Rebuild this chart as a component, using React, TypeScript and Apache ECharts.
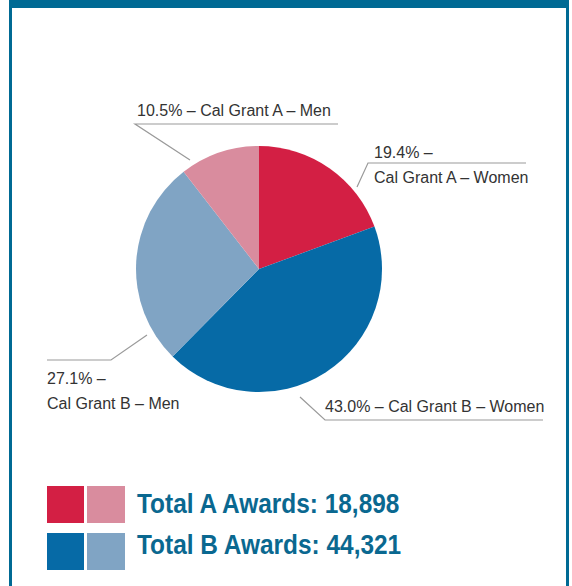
import React, { useEffect, useRef } from "react";
import * as echarts from "echarts";

// ---- Data ----
const categories = [
  "Cal Grant A – Women",
  "Cal Grant B – Women",
  "Cal Grant B – Men",
  "Cal Grant A – Men",
];
const shares = [19.4, 43.0, 27.1, 10.5];
const twoLineLabel = [true, false, true, false];
const sliceColors = ["#D31F44", "#066AA6", "#80A4C4", "#D98C9E"];

const awardGroups = ["A", "B"];
const awardTotals = [18898, 44321];
const groupColors = [
  ["#D31F44", "#D98C9E"],
  ["#066AA6", "#80A4C4"],
];

// ---- Layout (pixels) ----
const CX = 259;
const CY = 269;
const R = 123;
const FONT = "'Liberation Sans', Arial, sans-serif";

const labelPlace: any[] = [
  { x: 374, y: 165, align: "left", verticalAlign: "middle", pts: [[357, 187], [368, 163], [526, 163]] },
  { x: 325, y: 419, align: "left", verticalAlign: "bottom", pts: [[300, 397], [325, 420], [543, 420]] },
  { x: 47, y: 366, align: "left", verticalAlign: "top", pts: [[147, 335], [111, 360], [47, 360]] },
  { x: 137, y: 123, align: "left", verticalAlign: "bottom", pts: [[190, 160], [135, 124], [338, 124]] },
];

export default function App() {
  const ref = useRef<HTMLDivElement>(null);
  useEffect(() => {
    if (!ref.current) return;
    const chart = echarts.init(ref.current, null, { renderer: "svg" });
    const frameBlue = "#006A94";
    const graphics: any[] = [
      { type: "rect", shape: { x: 9, y: 0, width: 560, height: 8 }, style: { fill: frameBlue } },
      { type: "rect", shape: { x: 9, y: 0, width: 3, height: 586 }, style: { fill: frameBlue } },
      { type: "rect", shape: { x: 566, y: 0, width: 3, height: 586 }, style: { fill: frameBlue } },
    ];
    awardGroups.forEach((g, i) => {
      const top = 486 + i * 47;
      graphics.push({ type: "rect", shape: { x: 47, y: top, width: 37, height: 37 }, style: { fill: groupColors[i][0] } });
      graphics.push({ type: "rect", shape: { x: 87, y: top, width: 38, height: 37 }, style: { fill: groupColors[i][1] } });
      graphics.push({
        type: "text",
        x: 137,
        y: top + 17.5 - i * 6,
        scaleX: 0.905,
        style: {
          text: `Total ${g} Awards: ${awardTotals[i].toLocaleString("en-US")}`,
          fill: "#0A6890",
          font: `bold 27px ${FONT}`,
          verticalAlign: "middle",
          align: "left",
        },
      });
    });

    chart.setOption({
      animation: false,
      backgroundColor: "#ffffff",
      graphic: graphics,
      series: [
        {
          type: "pie",
          center: [CX, CY],
          radius: [0, R],
          startAngle: 90,
          clockwise: true,
          itemStyle: { borderWidth: 0 },
          label: {
            show: true,
            position: "outside",
            color: "#333333",
            fontFamily: FONT,
            fontSize: 16,
            lineHeight: 25,
            overflow: "none",
            formatter: (p: any) => {
              const i = p.dataIndex;
              const pct = shares[i].toFixed(1) + "% –";
              return twoLineLabel[i] ? `${pct}\n${categories[i]}` : `${pct} ${categories[i]}`;
            },
          },
          labelLine: { show: true, length: 10, length2: 10, lineStyle: { color: "#9A9A9A", width: 1.2 } },
          labelLayout: (p: any) => {
            const L = labelPlace[p.dataIndex];
            return {
              x: L.x,
              y: L.y,
              width: 300,
              align: L.align,
              verticalAlign: L.verticalAlign,
              labelLinePoints: L.pts,
            };
          },
          data: categories.map((c, i) => ({ name: c, value: shares[i], itemStyle: { color: sliceColors[i] } })),
        },
      ],
    });
    return () => chart.dispose();
  }, []);
  return (
    <div
      ref={ref}
      style={{ position: "fixed", left: 0, top: 0, width: 572, height: 586, background: "#fff" }}
    />
  );
}
